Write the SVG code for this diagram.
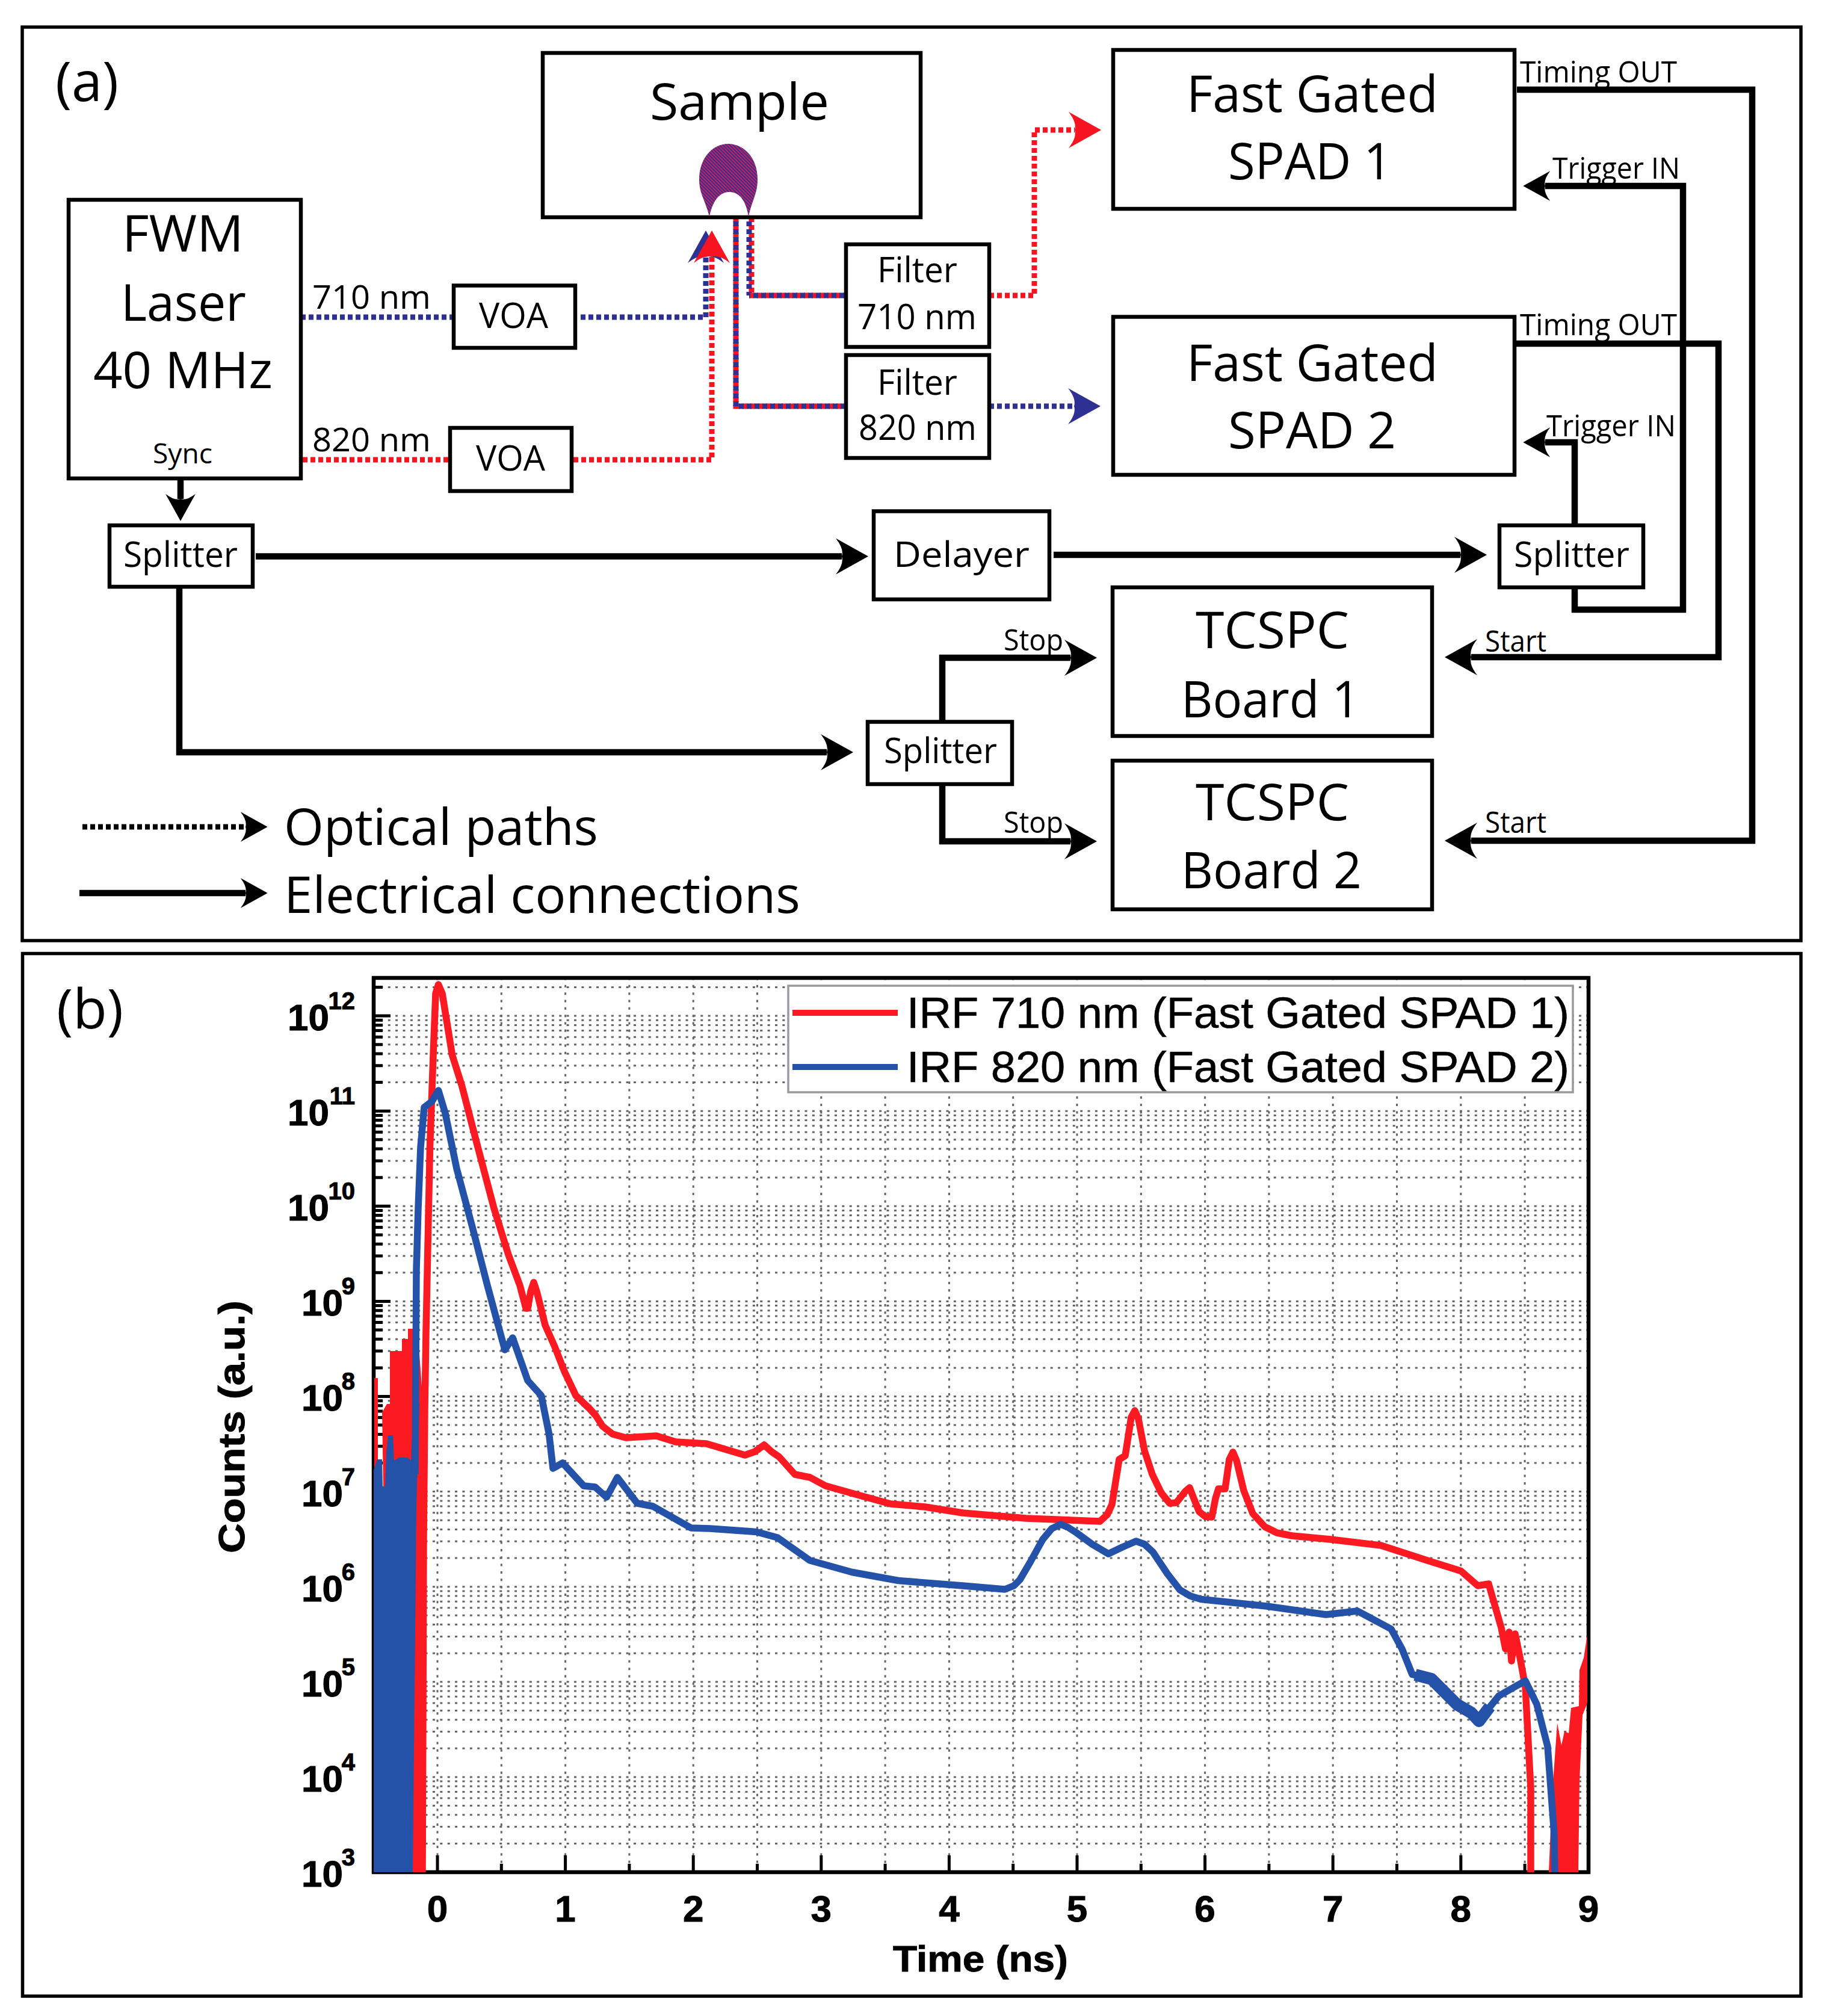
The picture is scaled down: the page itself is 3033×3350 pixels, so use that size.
<svg xmlns="http://www.w3.org/2000/svg" width="3033" height="3350" viewBox="0 0 3033 3350">
<style>
.frame{fill:none;stroke:#000;stroke-width:5.5}
.box{fill:#fff;stroke:#000;stroke-width:6.5}
.t{font-family:"Open Sans","Liberation Sans",sans-serif;fill:#000}
.xl{font-size:85px}.l{font-size:59px}.m{font-size:54px}.s{font-size:50px}
.el{fill:none;stroke:#000;stroke-width:10.5;stroke-linejoin:miter}
.op{fill:none;stroke-width:9;stroke-dasharray:8 5}
.r{stroke:#f5141f}.b{stroke:#2e3192}.k{stroke:#000}
.ch{font-family:"Liberation Sans",Arial,sans-serif;font-weight:bold;fill:#000;stroke:#000;stroke-width:1}
.tick{font-size:62px}.sup{font-size:40px}
.gh{fill:none;stroke:#666;stroke-width:3;stroke-dasharray:4 8.37}
.gv{fill:none;stroke:#666;stroke-width:3;stroke-dasharray:4 8.33}
.tk{fill:none;stroke:#000;stroke-width:5}
.cr{fill:none;stroke:#fb1a22;stroke-width:11.5;stroke-linejoin:round}
.cb{fill:none;stroke:#2352a8;stroke-width:11.5;stroke-linejoin:round}
.lg{font-family:"Liberation Sans",Arial,sans-serif;font-size:73px;stroke:#000;stroke-width:.6}
</style>
<defs>
<marker id="ak" viewBox="0 0 54 60" refX="10" refY="30" markerUnits="userSpaceOnUse" markerWidth="54" markerHeight="60" orient="auto"><path d="M54,30 L0,0 Q14,18 10,30 Q14,42 0,60 Z" fill="#000"/></marker>
<marker id="aks" viewBox="0 0 54 60" refX="10" refY="30" markerUnits="userSpaceOnUse" markerWidth="45" markerHeight="50" orient="auto"><path d="M54,30 L0,0 Q14,18 10,30 Q14,42 0,60 Z" fill="#000"/></marker>
<marker id="ar" viewBox="0 0 54 60" refX="10" refY="30" markerUnits="userSpaceOnUse" markerWidth="54" markerHeight="60" orient="auto"><path d="M54,30 L0,0 Q14,18 10,30 Q14,42 0,60 Z" fill="#f5141f"/></marker>
<marker id="ab" viewBox="0 0 54 60" refX="10" refY="30" markerUnits="userSpaceOnUse" markerWidth="54" markerHeight="60" orient="auto"><path d="M54,30 L0,0 Q14,18 10,30 Q14,42 0,60 Z" fill="#2e3192"/></marker>
<pattern id="hatch" width="4" height="4" patternUnits="userSpaceOnUse" patternTransform="rotate(45)"><rect width="4" height="2" fill="#2e3192"/><rect y="2" width="4" height="2" fill="#c8205a"/></pattern>
<path id="gdec" d="M620,0H2638M620,-47.6H2638M620,-75.4H2638M620,-95.2H2638M620,-110.5H2638M620,-123H2638M620,-133.6H2638M620,-142.8H2638M620,-150.9H2638"/>
<path id="tdec" d="M621,0h28M621,-47.6h15M621,-75.4h15M621,-95.2h15M621,-110.5h15M621,-123h15M621,-133.6h15M621,-142.8h15M621,-150.9h15"/>
</defs>
<rect width="3033" height="3350" fill="#fff"/>
<g id="panel-a">
<rect class="frame" x="37" y="45" width="2956" height="1518"/>
<text class="t" x="92" y="168" font-size="92" textLength="105" lengthAdjust="spacingAndGlyphs">(a)</text>
</g>
<g id="panel-b">
<rect class="frame" x="37.5" y="1584.5" width="2955.5" height="1732.5"/>
<text class="t" x="94" y="1709" font-size="92" textLength="111" lengthAdjust="spacingAndGlyphs">(b)</text>
</g>
<g id="chart">
<g id="grid">
<path class="gv" d="M727,1624.5V3085M833.3,1624.5V3097M939.6,1624.5V3085M1045.9,1624.5V3097M1152.2,1624.5V3085M1258.5,1624.5V3097M1364.8,1624.5V3085M1471.1,1624.5V3097M1577.4,1624.5V3085M1683.7,1624.5V3097M1790,1624.5V3085M1896.3,1624.5V3097M2002.6,1624.5V3085M2108.9,1624.5V3097M2215.2,1624.5V3085M2321.5,1624.5V3097M2427.8,1624.5V3085M2534.1,1624.5V3097"/>
<g class="gh">
<use href="#gdec" y="3111"/><use href="#gdec" y="2952.9"/><use href="#gdec" y="2794.8"/><use href="#gdec" y="2636.7"/><use href="#gdec" y="2478.6"/><use href="#gdec" y="2320.5"/><use href="#gdec" y="2162.4"/><use href="#gdec" y="2004.3"/><use href="#gdec" y="1846.2"/>
<path d="M620,1688.1H2638M620,1640.5H2638"/>
</g>
</g>
<g id="axes" class="tk">
<use href="#tdec" y="2952.9"/><use href="#tdec" y="2794.8"/><use href="#tdec" y="2636.7"/><use href="#tdec" y="2478.6"/><use href="#tdec" y="2320.5"/><use href="#tdec" y="2162.4"/><use href="#tdec" y="2004.3"/><use href="#tdec" y="1846.2"/>
<path d="M621,1688.1h28M621,1640.5h15"/>
<path d="M727,3111v-28M833.3,3111v-14M939.6,3111v-28M1045.9,3111v-14M1152.2,3111v-28M1258.5,3111v-14M1364.8,3111v-28M1471.1,3111v-14M1577.4,3111v-28M1683.7,3111v-14M1790,3111v-28M1896.3,3111v-14M2002.6,3111v-28M2108.9,3111v-14M2215.2,3111v-28M2321.5,3111v-14M2427.8,3111v-28M2534.1,3111v-14"/>
<rect x="621" y="1625" width="2019" height="1486" fill="none" stroke="#000" stroke-width="6.5"/>
</g>
<g id="curve-red">
<path fill="#fb1a22" d="M622,2445V2290H628V2445Z"/>
<path fill="#fb1a22" d="M637,2473L635,2347L643,2333L648,2333L648,2245L668,2245L668,2225L678,2225L678,2208L688,2208L697,2250L704,2345L708,2330L708,2350L704,2555L702,3111H660V2480Z"/>
<path fill="#fb1a22" d="M2574,3111L2579,2990L2588,2863L2595,2900L2600,2877L2607,2880L2611,2838L2624,2835L2625,2775L2632,2755L2638,2716V2830L2630,2850L2625,2960L2623,3111Z"/>
<path class="cr" d="M702,3111L704,2555L706,2340L708,2212L714.5,1906L720,1753L724,1651L728.6,1636L735,1651L751.5,1753L767.5,1804L794,1906L821,2008L845,2085L864,2136L874,2174L877,2174L882,2146L887,2131L892,2146L906,2202L922,2238L938,2279L957,2319L979,2340L990,2352L1001.5,2370L1018,2383L1040,2389L1091,2386L1123,2396L1174,2399L1238,2418L1255,2412L1270,2401L1282,2412L1295,2421L1321,2450L1346,2455L1372,2469L1429,2485L1480,2499L1537,2504L1600,2514L1705,2523L1828,2528L1840,2517L1848,2500L1856,2450L1860,2425L1870,2419L1880,2355L1886,2344L1892,2358L1902,2410.5L1915,2450L1930,2481L1944,2498L1955,2497L1970,2478L1977,2472L1984,2490L1993,2512L2003,2520L2014,2521L2020,2490L2025,2474L2036,2474L2043,2425L2049,2413L2055,2427L2067,2477L2082,2515L2102,2537L2122,2547L2147,2552L2211,2558L2295,2568L2372,2593L2428,2610.5L2456,2635L2474,2632L2495,2705L2502,2740L2508,2712L2512,2760L2518,2715L2526,2754L2535,2803L2544,2972L2544,3111"/>
</g>
<g id="curve-blue">
<path fill="#2352a8" d="M621,3111V2443L627,2425L635,2425L636,2470L640,2470L642,2413L645,2385L653,2385L655,2427L663,2422L677,2422L683,2427L685,2383L689,2332L697,2332L692,2500L686,3111Z"/>
<path class="cb" d="M690,2450L692,2110L695,2008L699,1906L705,1840L718,1830L728.6,1812L740,1850L759,1942L785,2039L810,2136L839,2243L852,2223L877,2294L899.5,2319L912.5,2383L919,2440L935,2431L970,2469L989,2471L1008,2488L1026,2455L1059,2498L1085,2503L1148.5,2539L1180,2540L1257,2545.5L1292,2555L1346,2593L1416,2612.5L1493,2626.5L1600,2635L1670,2641L1685,2635L1695,2625L1712,2596L1733,2558L1748,2540L1763,2533L1775,2538L1789,2547L1815,2566L1842,2582L1865,2571L1888,2561L1902,2566L1916,2579L1940,2615L1961,2642L1978,2652L1996,2657.5L2105,2669L2203.5,2683L2256,2677L2312,2707L2330,2740L2347,2782.5L2379,2789.5L2421,2832L2460,2856L2491,2818L2535,2793L2554,2832L2572,2902L2582.5,3042L2584,3111"/>
<path fill="none" stroke="#2352a8" stroke-width="20" stroke-linejoin="round" d="M2352,2783L2379,2790L2421,2832L2445,2846L2458,2860L2476,2836"/>
</g>
<g id="chart-labels">
<text class="ch tick" x="727" y="3193" text-anchor="middle">0</text>
<text class="ch tick" x="939.6" y="3193" text-anchor="middle">1</text>
<text class="ch tick" x="1152.2" y="3193" text-anchor="middle">2</text>
<text class="ch tick" x="1364.8" y="3193" text-anchor="middle">3</text>
<text class="ch tick" x="1577.4" y="3193" text-anchor="middle">4</text>
<text class="ch tick" x="1790" y="3193" text-anchor="middle">5</text>
<text class="ch tick" x="2002.6" y="3193" text-anchor="middle">6</text>
<text class="ch tick" x="2215.2" y="3193" text-anchor="middle">7</text>
<text class="ch tick" x="2427.8" y="3193" text-anchor="middle">8</text>
<text class="ch tick" x="2640" y="3193" text-anchor="middle">9</text>
<text class="ch" x="1484" y="3276" font-size="62" textLength="291" lengthAdjust="spacingAndGlyphs">Time (ns)</text>
<text class="ch" transform="translate(406,2581) rotate(-90)" font-size="62" textLength="420" lengthAdjust="spacingAndGlyphs">Counts (a.u.)</text>
<text class="ch tick" x="478" y="1712">10</text><text class="ch sup" x="590" y="1677" text-anchor="end">12</text>
<text class="ch tick" x="478" y="1870">10</text><text class="ch sup" x="590" y="1835" text-anchor="end">11</text>
<text class="ch tick" x="478" y="2028">10</text><text class="ch sup" x="590" y="1993" text-anchor="end">10</text>
<text class="ch tick" x="501" y="2186">10</text><text class="ch sup" x="590" y="2151" text-anchor="end">9</text>
<text class="ch tick" x="501" y="2344">10</text><text class="ch sup" x="590" y="2309" text-anchor="end">8</text>
<text class="ch tick" x="501" y="2503">10</text><text class="ch sup" x="590" y="2468" text-anchor="end">7</text>
<text class="ch tick" x="501" y="2661">10</text><text class="ch sup" x="590" y="2626" text-anchor="end">6</text>
<text class="ch tick" x="501" y="2819">10</text><text class="ch sup" x="590" y="2784" text-anchor="end">5</text>
<text class="ch tick" x="501" y="2977">10</text><text class="ch sup" x="590" y="2942" text-anchor="end">4</text>
<text class="ch tick" x="501" y="3135">10</text><text class="ch sup" x="590" y="3100" text-anchor="end">3</text>
</g>
<g id="chart-legend">
<rect x="1310" y="1638" width="1304" height="177" fill="#fff" stroke="#999aa0" stroke-width="3.5"/>
<path d="M1317,1683H1492" fill="none" stroke="#fb1a22" stroke-width="10"/>
<path d="M1317,1773H1492" fill="none" stroke="#2352a8" stroke-width="10"/>
<text class="lg" x="1507" y="1708" textLength="1101" lengthAdjust="spacingAndGlyphs">IRF 710 nm (Fast Gated SPAD 1)</text>
<text class="lg" x="1507" y="1798" textLength="1101" lengthAdjust="spacingAndGlyphs">IRF 820 nm (Fast Gated SPAD 2)</text>
</g>
</g>
<g id="connectors">
<path class="op r" d="M1223,361V675H1406"/>
<path class="op b" stroke-dashoffset="6" d="M1223,361V675H1406" stroke-width="7"/>
<path class="op r" d="M1249,361V491"/>
<path class="op b" stroke-dashoffset="6" d="M1245,361V491" stroke-width="3"/>
<path class="op r" d="M1245,491H1406"/>
<path class="op b" stroke-dashoffset="6" d="M1245,491H1406" stroke-width="7"/>
<path class="op b" d="M500,527H754M965,527H1173V427" marker-end="url(#ab)"/>
<path class="op r" d="M503,764H748M953,764H1183V427" marker-end="url(#ar)"/>
<path class="op r" d="M1644,491H1719V216H1786" marker-end="url(#ar)"/>
<path class="op b" d="M1644,675H1785" marker-end="url(#ab)"/>
<path class="el" d="M2521,149H2912V1397H2445" marker-end="url(#ak)"/>
<path class="el" d="M2517,571H2856V1092H2445" marker-end="url(#ak)"/>
<path class="el" d="M2617,976V1013H2797V309H2568" marker-end="url(#aks)"/>
<path class="el" d="M2617,873V735H2568" marker-end="url(#aks)"/>
<path class="el" d="M1751,922H2427" marker-end="url(#ak)"/>
<path class="el" d="M425,924.5H1399" marker-end="url(#ak)"/>
<path class="el" d="M300,797V829" marker-end="url(#aks)"/>
<path class="el" d="M298,975V1250H1374" marker-end="url(#ak)"/>
<path class="el" d="M1566,1199V1093H1779" marker-end="url(#ak)"/>
<path class="el" d="M1566,1303V1398H1779" marker-end="url(#ak)"/>
<path class="op k" d="M137,1374H408" stroke-width="10" stroke-dasharray="6 4" marker-end="url(#aks)"/>
<path class="el" d="M132,1484H408" marker-end="url(#aks)"/>
</g>
<g id="sample"><rect class="box" x="902" y="88" width="628" height="273"/>
<text class="t xl" x="1080" y="199" textLength="298" lengthAdjust="spacingAndGlyphs">Sample</text>
<path fill="url(#hatch)" d="M1179,360C1172,332 1162,322 1162,298C1162,262 1185,239 1210,239C1236,239 1259,262 1259,298C1259,322 1250,332 1244,360C1240,335 1230,319 1212,319C1195,319 1184,335 1179,360Z"/></g>
<g id="laser"><rect class="box" x="114" y="332" width="386" height="463"/>
<text class="t xl" x="203" y="418" textLength="202" lengthAdjust="spacingAndGlyphs">FWM</text>
<text class="t xl" x="201" y="533" textLength="208" lengthAdjust="spacingAndGlyphs">Laser</text>
<text class="t xl" x="155" y="645" textLength="298" lengthAdjust="spacingAndGlyphs">40 MHz</text>
<text class="t" x="254" y="770" font-size="46" textLength="99" lengthAdjust="spacingAndGlyphs">Sync</text></g>
<g id="voa1"><rect class="box" x="754" y="474.5" width="202" height="103.5"/><text class="t l" x="796" y="545" textLength="115" lengthAdjust="spacingAndGlyphs">VOA</text></g>
<g id="voa2"><rect class="box" x="748" y="711" width="202" height="105"/><text class="t l" x="791" y="782" textLength="115" lengthAdjust="spacingAndGlyphs">VOA</text></g>
<g id="filter1"><rect class="box" x="1406" y="406" width="238" height="170.5"/>
<text class="t l" x="1458" y="469" textLength="133" lengthAdjust="spacingAndGlyphs">Filter</text>
<text class="t l" x="1425" y="547" textLength="198" lengthAdjust="spacingAndGlyphs">710 nm</text></g>
<g id="filter2"><rect class="box" x="1406" y="590" width="238" height="171"/>
<text class="t l" x="1458" y="656" textLength="133" lengthAdjust="spacingAndGlyphs">Filter</text>
<text class="t l" x="1427" y="731" textLength="196" lengthAdjust="spacingAndGlyphs">820 nm</text></g>
<g id="spad1"><rect class="box" x="1850" y="83" width="667" height="264"/>
<text class="t xl" x="1972" y="186" textLength="418" lengthAdjust="spacingAndGlyphs">Fast Gated</text>
<text class="t xl" x="2041" y="298" textLength="272" lengthAdjust="spacingAndGlyphs">SPAD 1</text></g>
<g id="spad2"><rect class="box" x="1850" y="526.5" width="667" height="262.5"/>
<text class="t xl" x="1972" y="633" textLength="418" lengthAdjust="spacingAndGlyphs">Fast Gated</text>
<text class="t xl" x="2041" y="745" textLength="279" lengthAdjust="spacingAndGlyphs">SPAD 2</text></g>
<g id="splitter1"><rect class="box" x="182" y="873" width="238" height="102"/><text class="t l" x="205" y="942" textLength="190" lengthAdjust="spacingAndGlyphs">Splitter</text></g>
<g id="delayer"><rect class="box" x="1452" y="849.5" width="292" height="146.5"/><text class="t l" x="1485" y="942" textLength="226" lengthAdjust="spacingAndGlyphs">Delayer</text></g>
<g id="splitter3"><rect class="box" x="2492" y="873" width="239" height="103"/><text class="t l" x="2516" y="942" textLength="192" lengthAdjust="spacingAndGlyphs">Splitter</text></g>
<g id="splitter2"><rect class="box" x="1442" y="1199.5" width="240" height="103.5"/><text class="t l" x="1469" y="1268" textLength="188" lengthAdjust="spacingAndGlyphs">Splitter</text></g>
<g id="tcspc1"><rect class="box" x="1849" y="976" width="531" height="247"/>
<text class="t xl" x="1987" y="1077" textLength="255" lengthAdjust="spacingAndGlyphs">TCSPC</text>
<text class="t xl" x="1963" y="1192" textLength="297" lengthAdjust="spacingAndGlyphs">Board 1</text></g>
<g id="tcspc2"><rect class="box" x="1849" y="1264" width="531" height="247"/>
<text class="t xl" x="1987" y="1363" textLength="255" lengthAdjust="spacingAndGlyphs">TCSPC</text>
<text class="t xl" x="1963" y="1476" textLength="300" lengthAdjust="spacingAndGlyphs">Board 2</text></g>
<g id="labels">
<text class="t m" x="519" y="513" textLength="197" lengthAdjust="spacingAndGlyphs">710 nm</text>
<text class="t m" x="519" y="750" textLength="197" lengthAdjust="spacingAndGlyphs">820 nm</text>
<text class="t s" x="2526" y="137" textLength="261" lengthAdjust="spacingAndGlyphs">Timing OUT</text>
<text class="t s" x="2580" y="297" textLength="212" lengthAdjust="spacingAndGlyphs">Trigger IN</text>
<text class="t s" x="2526" y="557" textLength="261" lengthAdjust="spacingAndGlyphs">Timing OUT</text>
<text class="t s" x="2570" y="725" textLength="215" lengthAdjust="spacingAndGlyphs">Trigger IN</text>
<text class="t s" x="1668" y="1081" textLength="99" lengthAdjust="spacingAndGlyphs">Stop</text>
<text class="t s" x="1668" y="1384" textLength="99" lengthAdjust="spacingAndGlyphs">Stop</text>
<text class="t s" x="2468" y="1083" textLength="102" lengthAdjust="spacingAndGlyphs">Start</text>
<text class="t s" x="2468" y="1384" textLength="102" lengthAdjust="spacingAndGlyphs">Start</text>
<text class="t xl" x="472" y="1404" textLength="522" lengthAdjust="spacingAndGlyphs">Optical paths</text>
<text class="t xl" x="472" y="1517" textLength="858" lengthAdjust="spacingAndGlyphs">Electrical connections</text>
</g>
</svg>
